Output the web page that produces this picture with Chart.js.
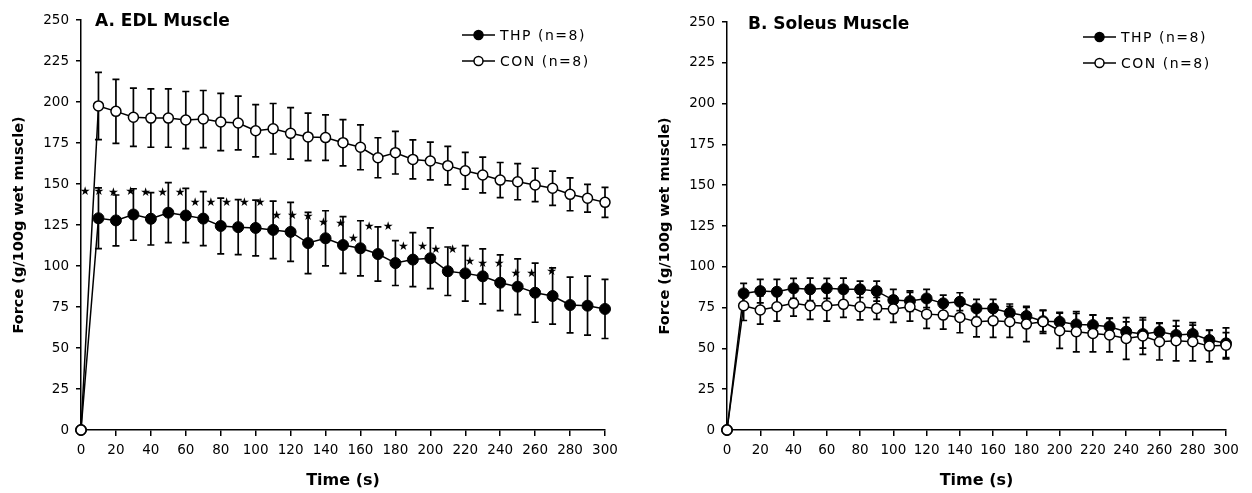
<!DOCTYPE html>
<html>
<head>
<meta charset="utf-8">
<title>Muscle force over time</title>
<script src="https://cdn.jsdelivr.net/npm/chart.js@4.4.1/dist/chart.umd.min.js"></script>
<style>
  html, body { margin: 0; padding: 0; background: #fff; }
  .wrap { display: flex; width: 1252px; height: 493px; }
  .panel { width: 626px; height: 493px; }
</style>
</head>
<body>
<div class="wrap">
  <div class="panel"><canvas id="edlChart" width="626" height="493"></canvas></div>
  <div class="panel"><canvas id="soleusChart" width="626" height="493"></canvas></div>
</div>
<script>
const timePoints = [0, 10, 20, 30, 40, 50, 60, 70, 80, 90, 100, 110, 120, 130, 140, 150,
  160, 170, 180, 190, 200, 210, 220, 230, 240, 250, 260, 270, 280, 290, 300];

// A. EDL
const edlThp = [0, 129.1, 127.8, 131.4, 128.8, 132.5, 130.8, 128.9, 124.4, 123.7, 123.2, 122, 120.8, 114,
  116.9, 112.8, 110.8, 107.3, 101.8, 103.9, 104.7, 96.8, 95.5, 93.7, 89.8, 87.4, 83.7, 81.7, 76.2, 75.8, 73.8];
const edlThpSe = [0, 18.5, 15.5, 15.7, 16, 18.3, 16.5, 16.5, 17, 16.8, 17, 17.5, 18, 18.7,
  16.8, 17.3, 16.8, 16.5, 13.7, 16.5, 18.5, 14.8, 16.9, 16.8, 17, 17, 18, 17.2, 17, 18, 18];
const edlCon = [0, 197.6, 194.3, 190.7, 190.2, 190.2, 189, 189.6, 187.8, 187.2, 182.5, 183.7, 180.9, 178.7,
  178.3, 175.2, 172.4, 166, 169.1, 165, 164, 161.2, 158.1, 155.5, 152.4, 151.4, 149.4, 147.4, 143.7, 141.3, 138.8];
const edlConSe = [0, 20.5, 19.5, 17.8, 17.8, 17.8, 17.4, 17.4, 17.4, 16.4, 15.9, 15.4, 15.7, 14.5,
  13.9, 14.1, 13.7, 12.2, 13, 11.9, 11.5, 11.7, 11.2, 10.9, 10.7, 11, 10.2, 10.4, 10, 8.5, 9.2];

// significance asterisks (time, force)
const starTimes = [2.3, 10.3, 18.5, 28.4, 37, 46.7, 56.7, 65.3, 74.4, 83.4, 93.5, 102.5, 112, 121, 130.1,
  138.7, 148.6, 155.9, 165, 175.9, 184.5, 195.6, 203.2, 212.8, 222.7, 229.9, 239.4, 249, 258, 269.4];
const starForces = [145.3, 145.3, 144.7, 145.3, 144.7, 144.7, 144.7, 138.2, 138.2, 138.2, 138.2, 138.2, 130.5, 130.5, 130.1,
  126.4, 125.6, 116.3, 123.6, 123.6, 111.4, 111.4, 109.8, 109.8, 102.6, 101.6, 101.6, 95.5, 95.5, 96.5];

// B. Soleus
const solThp = [0, 83.7, 85.1, 84.7, 86.8, 86.2, 86.8, 86.2, 86.2, 85.1, 79.6, 79, 80.6, 77.6,
  78.6, 74.5, 74.5, 71.8, 69.8, 66.7, 66.3, 64.7, 64.3, 63.3, 60.2, 58.8, 60.2, 58.2, 58.8, 55.1, 53.1];
const solThpSe = [0, 6.1, 7.2, 7.6, 6.1, 6.9, 6.1, 6.9, 5, 6.1, 6.6, 6.3, 5.6, 5.1,
  5.5, 5.5, 5.5, 5.4, 5.3, 6.4, 5.8, 6.7, 6.1, 5.1, 6.1, 8.6, 5.5, 5.5, 5.5, 6.1, 9.5];
const solCon = [0, 76.1, 73.5, 75.5, 77.6, 76.1, 76.1, 77, 75.5, 74.5, 74.1, 75.5, 71, 70.4,
  69, 66.3, 66.9, 66.3, 64.9, 66.3, 60.8, 60.2, 59.2, 58.2, 56.1, 57.6, 54.1, 54.7, 54.1, 51.4, 52];
const solConSe = [0, 9, 8.6, 8.8, 7.8, 8.3, 9.4, 8, 8, 6.7, 8.1, 8.8, 8.7, 8.6,
  9.4, 9.2, 10.1, 9.5, 10.8, 7.1, 10.8, 12.3, 11.3, 10.3, 12.8, 11.3, 11.2, 12.3, 11.7, 9.6, 7.7];

const seriesLabels = ['THP (n=8)', 'CON (n=8)'];
const FONT = '"DejaVu Sans", sans-serif';

const toPoints = vals => timePoints.map((t, i) => ({ x: t, y: vals[i] }));

// vertical SE bars with caps, drawn under the markers
const errorBars = {
  id: 'errorBars',
  beforeDatasetsDraw(chart) {
    const { ctx } = chart;
    const y = chart.scales.y;
    ctx.save();
    ctx.strokeStyle = '#000';
    ctx.lineWidth = 1.7;
    chart.data.datasets.forEach((ds, i) => {
      const meta = chart.getDatasetMeta(i);
      meta.data.forEach((pt, j) => {
        const se = ds.errors[j];
        if (!se) return;
        const v = ds.data[j].y;
        const top = y.getPixelForValue(v + se);
        const bot = y.getPixelForValue(v - se);
        ctx.beginPath();
        ctx.moveTo(pt.x, top); ctx.lineTo(pt.x, bot);
        ctx.moveTo(pt.x - 3.5, top); ctx.lineTo(pt.x + 3.5, top);
        ctx.moveTo(pt.x - 3.5, bot); ctx.lineTo(pt.x + 3.5, bot);
        ctx.stroke();
      });
    });
    ctx.restore();
  }
};

const panelTitle = (text, dx, dy) => ({
  id: 'panelTitle',
  afterDraw(chart) {
    const { ctx, chartArea } = chart;
    ctx.save();
    ctx.font = 'bold 17px ' + FONT;
    ctx.fillStyle = '#000';
    ctx.textBaseline = 'alphabetic';
    ctx.fillText(text, chartArea.left + dx, dy);
    ctx.restore();
  }
});

const seriesKey = {
  id: 'seriesKey',
  afterDraw(chart) {
    const { ctx, chartArea } = chart;
    const x0 = chartArea.right - 143;
    ctx.save();
    chart.data.datasets.forEach((ds, i) => {
      const cy = chartArea.top + 15 + i * 26;
      ctx.strokeStyle = '#000';
      ctx.lineWidth = 1.5;
      ctx.beginPath();
      ctx.moveTo(x0, cy); ctx.lineTo(x0 + 33, cy);
      ctx.stroke();
      ctx.beginPath();
      ctx.arc(x0 + 16.5, cy, 4.5, 0, Math.PI * 2);
      ctx.fillStyle = ds.pointBackgroundColor;
      ctx.fill();
      ctx.stroke();
      ctx.fillStyle = '#000';
      ctx.font = '14px ' + FONT;
      ctx.letterSpacing = '1.5px';
      ctx.textBaseline = 'middle';
      ctx.fillText(ds.label, x0 + 38, cy + 1);
      ctx.letterSpacing = '0px';
    });
    ctx.restore();
  }
};

const starMarks = (times, forces) => ({
  id: 'starMarks',
  afterDatasetsDraw(chart) {
    const { ctx, scales: { x, y } } = chart;
    ctx.save();
    ctx.fillStyle = '#000';
    ctx.font = '12px ' + FONT;
    ctx.textAlign = 'center';
    ctx.textBaseline = 'middle';
    times.forEach((t, i) => ctx.fillText('★', x.getPixelForValue(t), y.getPixelForValue(forces[i])));
    ctx.restore();
  }
});

function makePanel(id, title, thp, thpSe, con, conSe, opts) {
  const axisGrid = { display: true, drawOnChartArea: false, drawTicks: true, tickLength: 5, color: '#000', lineWidth: 1.5 };
  const axisBorder = { display: true, color: '#000', width: 1.5 };
  const tickFont = { family: FONT, size: 13.5 };
  const plugins = [errorBars, panelTitle(title, opts.titleX, opts.titleY), seriesKey];
  if (opts.stars) plugins.push(starMarks(opts.stars[0], opts.stars[1]));

  return new Chart(document.getElementById(id), {
    type: 'line',
    data: {
      datasets: [
        { label: seriesLabels[0], data: toPoints(thp), errors: thpSe, order: 1, clip: false,
          borderColor: '#000', borderWidth: 1.5, pointRadius: 5.5, pointBackgroundColor: '#000',
          pointBorderColor: '#000', pointBorderWidth: 1, tension: 0 },
        { label: seriesLabels[1], data: toPoints(con), errors: conSe, order: 0, clip: false,
          borderColor: '#000', borderWidth: 1.5, pointRadius: 5, pointBackgroundColor: '#fff',
          pointBorderColor: '#000', pointBorderWidth: 1.5, tension: 0 }
      ]
    },
    options: {
      responsive: false, animation: false, events: [],
      layout: { padding: opts.padding },
      plugins: { legend: { display: false }, tooltip: { enabled: false } },
      scales: {
        x: {
          type: 'linear', min: 0, max: 300,
          grid: { ...axisGrid, tickLength: 6 }, border: axisBorder,
          ticks: { stepSize: 20, font: tickFont, color: '#000', padding: 6, maxRotation: 0 },
          title: { display: true, text: 'Time (s)', color: '#000', font: { family: FONT, size: 16, weight: 'bold' }, padding: { top: 4, bottom: 3 } },
          afterFit: s => { s.height = 63; }
        },
        y: {
          min: 0, max: 250,
          grid: axisGrid, border: axisBorder,
          ticks: { stepSize: 25, font: tickFont, color: '#000', padding: 7 },
          title: { display: true, text: 'Force (g/100g wet muscle)', color: '#000', font: { family: FONT, size: 14.5, weight: 'bold' }, padding: { top: 11, bottom: 0 } },
          afterFit: s => { s.width = 81; }
        }
      }
    },
    plugins
  });
}

makePanel('edlChart', 'A. EDL Muscle', edlThp, edlThpSe, edlCon, edlConSe, {
  padding: { left: 0, right: 21, top: 20, bottom: 0 }, titleX: 14, titleY: 26,
  stars: [starTimes, starForces]
});
makePanel('soleusChart', 'B. Soleus Muscle', solThp, solThpSe, solCon, solConSe, {
  padding: { left: 20, right: 26, top: 22, bottom: 0 }, titleX: 21, titleY: 29
});
</script>
</body>
</html>
